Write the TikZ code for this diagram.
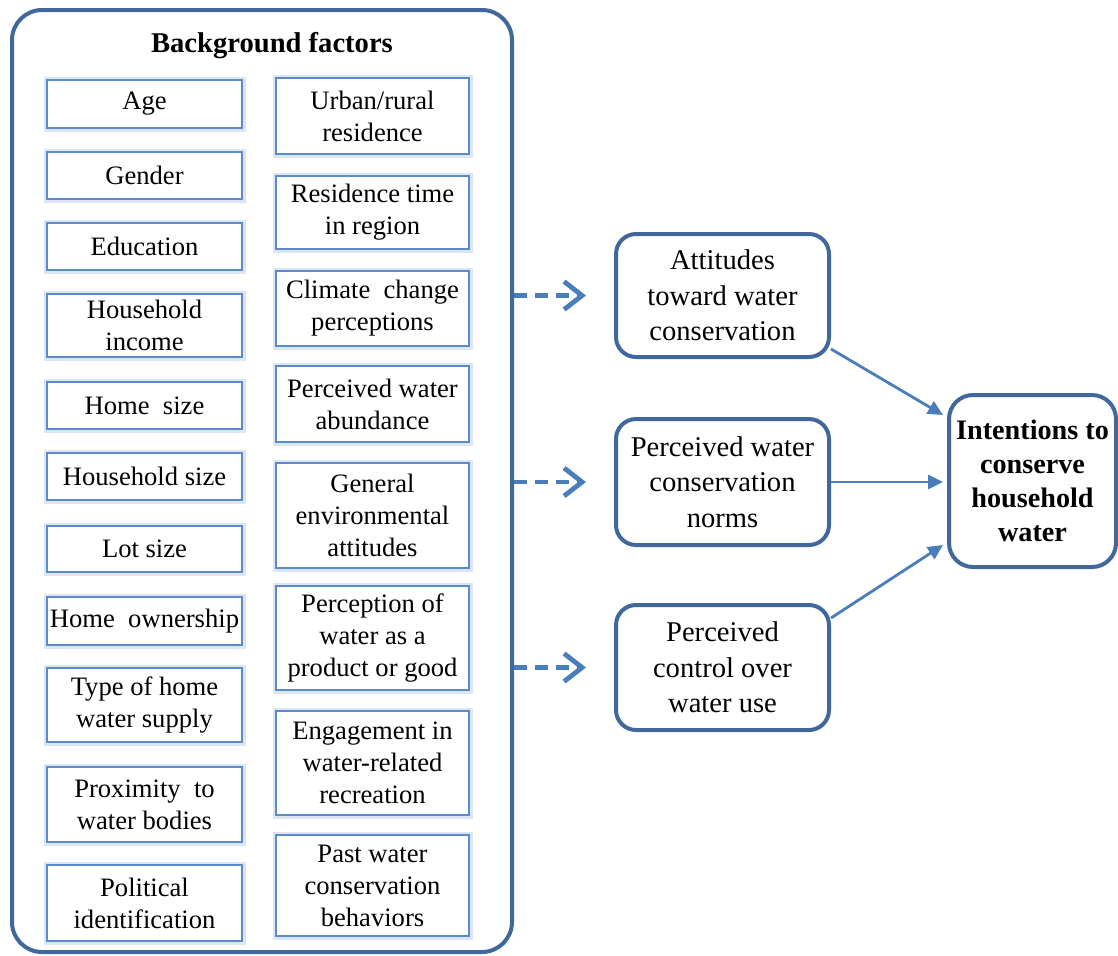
\documentclass[tikz,border=0pt]{standalone}
\usepackage{fontspec}
\setmainfont{Liberation Serif}
\usetikzlibrary{arrows.meta,calc}
\definecolor{dkblue}{HTML}{41689C}
\definecolor{ltblue}{HTML}{5B8BC8}
\definecolor{arblue}{HTML}{4A7EBB}
\definecolor{glow}{HTML}{DCE6F2}
\begin{document}
\begin{tikzpicture}[x=0.5pt,y=-0.5pt,
  lbox/.style={draw=ltblue, line width=0.9pt, fill=white,
    preaction={draw=glow, line width=3.5pt},
    align=center, inner sep=1pt, font=\fontsize{13.3}{16}\selectfont},
  lcol/.style={lbox, minimum width=97.5pt},
  rcol/.style={lbox, minimum width=96.5pt},
  mbox/.style={draw=dkblue, line width=2pt, rounded corners=10pt, fill=white,
    align=center, minimum width=106.5pt, inner sep=1pt,
    font=\fontsize{14.3}{17.7}\selectfont},
  dasharrow/.style={draw=arblue, line width=2.4pt, dash pattern=on 6.5pt off 4pt,
    -{Straight Barb[length=9pt,width=14pt,line width=2.4pt]}, shorten >=14pt},
  solidarrow/.style={draw=arblue, line width=1.4pt, -{Triangle[length=7.5pt,width=7pt]}}
]
\useasboundingbox (0,0) rectangle (1118,955);
% outer box
\node[draw=dkblue, line width=2pt, rounded corners=15pt, minimum width=250pt,
  minimum height=471pt, inner sep=0pt] (bg) at (262,481) {};
\node[font=\fontsize{14.3}{17}\selectfont\bfseries] (title) at (272,46) {Background factors};
% left column
\node[lcol, minimum height=24pt] (age) at (144.5,104) {Age};
\node[lcol, minimum height=23.5pt] (gen) at (144.5,175.5) {Gender};
\node[lcol, minimum height=23.5pt] (edu) at (144.5,246.5) {Education};
\node[lcol, minimum height=31.5pt] (inc) at (144.5,325.5) {Household\\income};
\node[lcol, minimum height=23.5pt] (hsz) at (144.5,405.5) {Home\ \ size};
\node[lcol, minimum height=23.5pt] (hhs) at (144.5,476.5) {Household size};
\node[lcol, minimum height=23pt] (lot) at (144.5,549) {Lot size};
\node[lcol, minimum height=24pt] (own) at (144.5,621) {Home\ \ ownership};
\node[lcol, minimum height=37pt] (sup) at (144.5,705) {Type of home\\water supply};
\node[lcol, minimum height=37.5pt] (prox) at (144.5,804.5) {Proximity\ \ to\\water bodies};
\node[lcol, minimum height=38pt] (pol) at (144.5,903) {Political\\identification};
% right column
\node[rcol, minimum height=38pt] (urb) at (372.5,116) {Urban/rural\\residence};
\node[rcol, minimum height=36.5pt] (res) at (372.5,212.5) {Residence time\\in region};
\node[rcol, minimum height=37.5pt] (cli) at (372.5,308.5) {Climate\ \ change\\perceptions};
\node[rcol, minimum height=38pt] (abu) at (372.5,404) {Perceived water\\abundance};
\node[rcol, minimum height=52.5pt] (env) at (372.5,515.5) {General\\environmental\\attitudes};
\node[rcol, minimum height=52pt] (prod) at (372.5,638) {Perception of\\water as a\\product or good};
\node[rcol, minimum height=52pt] (rec) at (372.5,763) {Engagement in\\water-related\\recreation};
\node[rcol, minimum height=50.5pt] (past) at (372.5,885.5) {Past water\\conservation\\behaviors};
% middle
\node[mbox, minimum height=61.5pt] (att) at (722.5,295.5) {Attitudes\\toward water\\conservation};
\node[mbox, minimum height=63pt] (norm) at (722.5,482) {Perceived water\\conservation\\norms};
\node[mbox, minimum height=62.5pt] (ctrl) at (722.5,667.5) {Perceived\\control over\\water use};
% intentions
\node[draw=dkblue, line width=2pt, rounded corners=12pt, fill=white, align=center,
  minimum width=83.5pt, minimum height=86pt, inner sep=1pt,
  font=\fontsize{14.1}{17}\selectfont\bfseries] (int) at (1032.5,481) {Intentions to\\conserve\\household\\water};
% dashed arrows
\draw[dasharrow] (bg.east |- att.west) -- (att.west);
\draw[dasharrow] (bg.east |- norm.west) -- (norm.west);
\draw[dasharrow] (bg.east |- ctrl.west) -- (ctrl.west);
% solid arrows
\draw[solidarrow] ([yshift=5pt]att.south east) -- ([yshift=-11pt,xshift=-2pt]int.north west);
\draw[solidarrow] (norm.east) -- ([xshift=-2pt]int.west |- norm.east);
\draw[solidarrow] ([yshift=-7.5pt]ctrl.north east) -- ([yshift=12pt,xshift=-2pt]int.south west);
\end{tikzpicture}
\end{document}
